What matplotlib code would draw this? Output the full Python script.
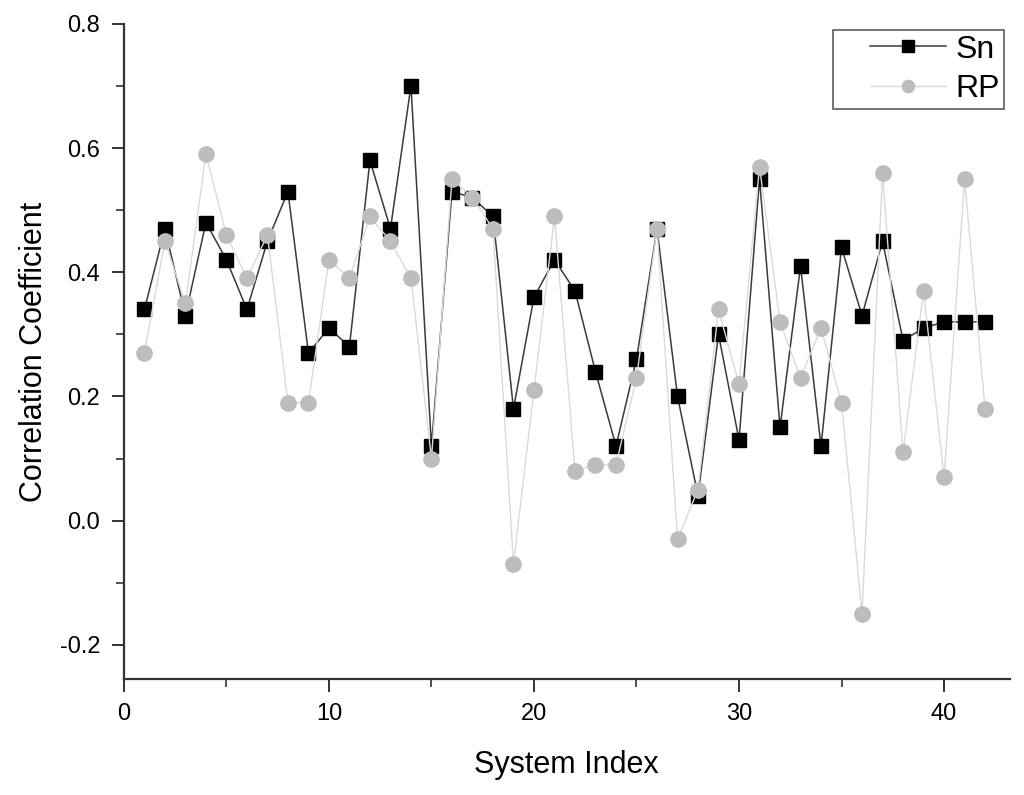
import matplotlib
matplotlib.use('Agg')
import matplotlib.pyplot as plt
from matplotlib.ticker import MultipleLocator
from matplotlib.legend_handler import HandlerLine2D
import numpy as np

# values
system_index = list(range(1, 43))
sn = [0.34, 0.47, 0.33, 0.48, 0.42, 0.34, 0.45, 0.53, 0.27, 0.31,
      0.28, 0.58, 0.47, 0.70, 0.12, 0.53, 0.52, 0.49, 0.18, 0.36,
      0.42, 0.37, 0.24, 0.12, 0.26, 0.47, 0.20, 0.04, 0.30, 0.13,
      0.55, 0.15, 0.41, 0.12, 0.44, 0.33, 0.45, 0.29, 0.31, 0.32,
      0.32, 0.32]
rp = [0.27, 0.45, 0.35, 0.59, 0.46, 0.39, 0.46, 0.19, 0.19, 0.42,
      0.39, 0.49, 0.45, 0.39, 0.10, 0.55, 0.52, 0.47, -0.07, 0.21,
      0.49, 0.08, 0.09, 0.09, 0.23, 0.47, -0.03, 0.05, 0.34, 0.22,
      0.57, 0.32, 0.23, 0.31, 0.19, -0.15, 0.56, 0.11, 0.37, 0.07,
      0.55, 0.18]

plt.rcParams['font.family'] = ['Liberation Sans', 'DejaVu Sans']

fig = plt.figure(figsize=(10.24, 7.95), dpi=100)
ax = fig.add_axes([0.121, 0.146, 0.865, 0.824])

ax.plot(system_index, sn, color='#3a3a3a', lw=1.1, marker='s', ms=10,
        mfc='black', mec='black', label='Sn', zorder=3)
ax.plot(system_index, rp, color='#dadada', lw=1.0, marker='o', ms=11,
        mfc='#bdbdbd', mec='#bdbdbd', label='RP', zorder=4)

ax.set_xlim(0, 43.2)
ax.set_ylim(-0.255, 0.8)
ax.xaxis.set_major_locator(MultipleLocator(10))
ax.xaxis.set_minor_locator(MultipleLocator(5))
ax.yaxis.set_minor_locator(MultipleLocator(0.1))
ax.set_yticks([-0.2, 0.0, 0.2, 0.4, 0.6, 0.8])
ax.set_yticklabels(['-0.2', '0.0', '0.2', '0.4', '0.6', '0.8'])

for s in ['top', 'right']:
    ax.spines[s].set_visible(False)
for s in ['left', 'bottom']:
    ax.spines[s].set_linewidth(1.6)
    ax.spines[s].set_color('#333333')

ax.tick_params(which='major', length=9, width=1.4, labelsize=17, color='#333333', pad=8)
ax.tick_params(which='minor', length=6, width=1.2, color='#333333')

ax.set_xlabel('System Index', fontsize=22, labelpad=18)
ax.set_ylabel('Correlation Coefficient', fontsize=22, labelpad=8)

# leave some empty room left of the legend handles, like the original
pad_handler = HandlerLine2D(xpad=1.03)
leg = ax.legend(loc='upper right', bbox_to_anchor=(0.994, 0.991), fontsize=23,
                frameon=True, fancybox=False, handlelength=3.4,
                borderpad=0.15, labelspacing=0.3, handletextpad=0.28,
                borderaxespad=0.0, markerscale=0.8,
                handler_map={plt.Line2D: pad_handler})
leg.get_frame().set_edgecolor('#333333')
leg.get_frame().set_linewidth(1.2)

fig.savefig('out.png', dpi=100)
